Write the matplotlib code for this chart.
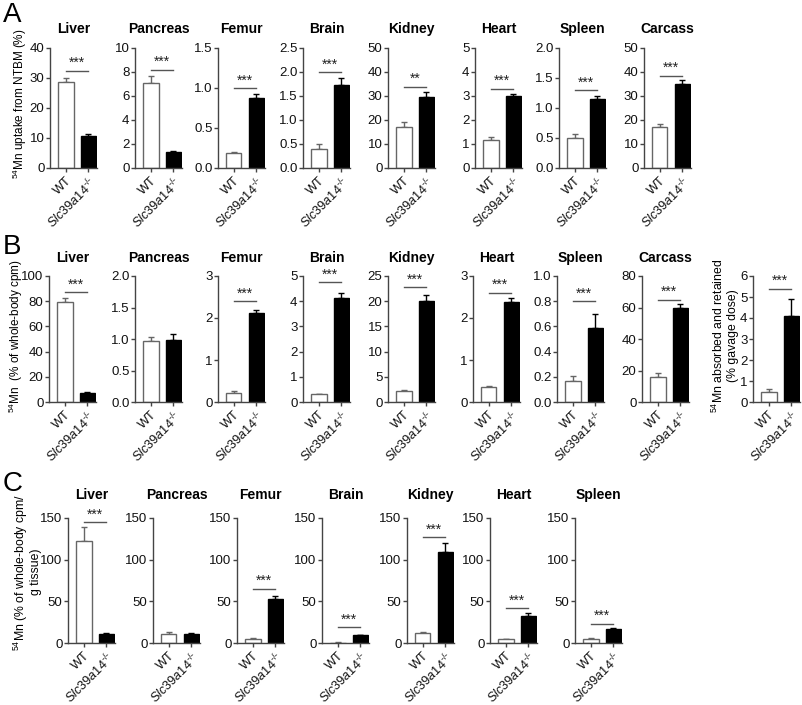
import numpy as np
import matplotlib
matplotlib.use("Agg")
import matplotlib.pyplot as plt

plt.rcParams["font.family"] = ["Liberation Sans", "DejaVu Sans"]
plt.rcParams["mathtext.fontset"] = "custom"
plt.rcParams["mathtext.rm"] = "Liberation Sans"
plt.rcParams["mathtext.it"] = "Liberation Sans:italic"

W, H = 802, 705
GROUPS = ["WT", "$\\mathit{Slc39a14}^{\\mathrm{\u2010/\u2010}}$"]
SPINE = "#444444"
WT_EDGE = "#666666"
SIG_COL = "#555555"

# ── Panel A: 54Mn uptake from NTBM (%) ────────────────────────────────
A_names  = ["Liver", "Pancreas", "Femur", "Brain", "Kidney", "Heart", "Spleen", "Carcass"]
A_wt     = [28.6, 7.1, 0.19, 0.40, 17.2, 1.15, 0.50, 17.0]
A_wt_err = [1.4, 0.6, 0.015, 0.09, 1.9, 0.15, 0.06, 1.5]
A_ko     = [10.7, 1.32, 0.87, 1.72, 29.7, 3.0, 1.15, 35.0]
A_ko_err = [0.5, 0.12, 0.05, 0.15, 1.8, 0.1, 0.05, 1.6]
A_ymax   = [40, 10, 1.5, 2.5, 50, 5, 2.0, 50]
A_step   = [10, 2, 0.5, 0.5, 10, 1, 0.5, 10]
A_sig    = ["***", "***", "***", "***", "**", "***", "***", "***"]
A_sig_y  = [32.5, 8.2, 1.0, 2.0, 33.8, 3.3, 1.3, 38.5]

# ── Panel B: 54Mn (% of whole-body cpm) ───────────────────────────────
B_names  = ["Liver", "Pancreas", "Femur", "Brain", "Kidney", "Heart", "Spleen", "Carcass", ""]
B_wt     = [79.5, 0.97, 0.21, 0.30, 2.2, 0.35, 0.17, 16.0, 0.48]
B_wt_err = [3.0, 0.06, 0.05, 0.03, 0.15, 0.02, 0.04, 2.5, 0.12]
B_ko     = [7.5, 0.99, 2.12, 4.12, 20.0, 2.37, 0.59, 60.0, 4.1]
B_ko_err = [0.5, 0.09, 0.07, 0.2, 1.2, 0.11, 0.11, 2.0, 0.8]
B_ymax   = [100, 2.0, 3, 5, 25, 3, 1.0, 80, 6]
B_step   = [20, 0.5, 1, 1, 5, 1, 0.2, 20, 1]
B_sig    = ["***", "", "***", "***", "***", "***", "***", "***", "***"]
B_sig_y  = [87, 0, 2.4, 4.75, 22.8, 2.6, 0.8, 65, 5.4]

# ── Panel C: 54Mn (% of whole-body cpm / g tissue) ────────────────────
C_names  = ["Liver", "Pancreas", "Femur", "Brain", "Kidney", "Heart", "Spleen"]
C_wt     = [122, 11, 4.5, 0.5, 12, 4.5, 4.5]
C_wt_err = [17, 2, 1.0, 0.3, 1.5, 0.6, 1.0]
C_ko     = [11, 10.5, 53, 9.5, 109, 33, 17]
C_ko_err = [1.0, 1.0, 4, 0.7, 11, 2.5, 1.0]
C_ymax   = [150] * 7
C_step   = [50] * 7
C_sig    = ["***", "", "***", "***", "***", "***", "***"]
C_sig_y  = [145, 0, 65, 19, 127, 42, 23]

fig = plt.figure(figsize=(W / 100, H / 100), dpi=100)


def fmt_tick(v, step):
    if step < 1:
        return f"{v:.1f}"
    return f"{int(round(v))}"


def draw_row(lefts, top, bottom, names, wt, wt_err, ko, ko_err, ymax, step, sig, sig_y, title_y):
    axw = 47
    for i, name in enumerate(names):
        ax = fig.add_axes([lefts[i] / W, 1 - bottom / H, axw / W, (bottom - top) / H])
        x = np.arange(2)
        ax.bar(x, [wt[i], ko[i]], width=0.68, color=["white", "black"],
               edgecolor=[WT_EDGE, "black"], linewidth=1.0, zorder=2)
        for xi, val, err, col in [(0, wt[i], wt_err[i], WT_EDGE), (1, ko[i], ko_err[i], "black")]:
            ax.errorbar([xi], [val], yerr=[[0], [err]], fmt="none", ecolor=col,
                        elinewidth=1.0, capsize=2.5, capthick=1.0, zorder=1)
        ax.set_xlim(-0.7, 1.38)
        ax.set_ylim(0, ymax[i])
        ticks = np.arange(0, ymax[i] + step[i] / 2, step[i])
        ax.set_yticks(ticks)
        ax.set_yticklabels([fmt_tick(t, step[i]) for t in ticks])
        ax.set_xticks(x)
        ax.set_xticklabels(GROUPS, rotation=45, ha="right", rotation_mode="anchor")
        for s in ("top", "right"):
            ax.spines[s].set_visible(False)
        for s in ("left", "bottom"):
            ax.spines[s].set_color(SPINE)
            ax.spines[s].set_linewidth(1.0)
        ax.tick_params(axis="both", colors=SPINE, labelcolor="#111111",
                       labelsize=9.5, length=3, width=1.0, pad=1)
        ax.tick_params(axis="x", labelsize=9.2, pad=2)
        if sig[i]:
            ax.plot([0, 1], [sig_y[i], sig_y[i]], color=SIG_COL, lw=1.0, clip_on=False)
            ax.text(0.5, sig_y[i] + ymax[i] * 0.005, sig[i], ha="center", va="bottom",
                    fontsize=10, color="#222222")
        if name:
            fig.text((lefts[i] + axw / 2) / W, 1 - title_y / H, name, ha="center",
                     va="center", fontsize=10, fontweight="bold")


draw_row([50, 135, 218, 303, 388, 475, 559, 644], 48, 168,
         A_names, A_wt, A_wt_err, A_ko, A_ko_err, A_ymax, A_step, A_sig, A_sig_y, 29)
draw_row([49, 135, 218, 303, 388, 473, 557, 642, 753], 276, 402,
         B_names, B_wt, B_wt_err, B_ko, B_ko_err, B_ymax, B_step, B_sig, B_sig_y, 258)
draw_row([68, 153, 237, 322, 407, 490, 575], 518, 643,
         C_names, C_wt, C_wt_err, C_ko, C_ko_err, C_ymax, C_step, C_sig, C_sig_y, 495)

# axis labels
fig.text(20 / W, 1 - 104 / H, r"$^{54}$Mn uptake from NTBM (%)", rotation=90,
         ha="center", va="center", fontsize=8.5)
fig.text(16 / W, 1 - 336 / H, r"$^{54}$Mn  (% of whole-body cpm)", rotation=90,
         ha="center", va="center", fontsize=8.5)
fig.text(27 / W, 1 - 572 / H, "$^{54}$Mn (% of whole-body cpm/\ng tissue)", rotation=90,
         ha="center", va="center", fontsize=8.8, linespacing=1.05)
fig.text(725 / W, 1 - 336 / H, "$^{54}$Mn absorbed and retained\n(% gavage dose)",
         rotation=90, ha="center", va="center", fontsize=8.8, linespacing=1.05)

# panel letters
for lbl, y in [("A", 15), ("B", 247), ("C", 484)]:
    fig.text(3 / W, 1 - y / H, lbl, ha="left", va="center", fontsize=20)

fig.savefig("out.png", dpi=100, facecolor="white")
